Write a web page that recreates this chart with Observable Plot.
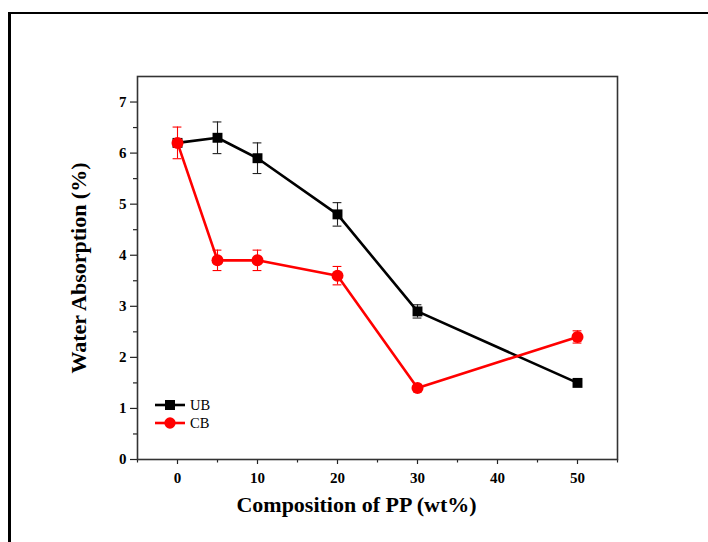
<!DOCTYPE html>
<html>
<head>
<meta charset="utf-8">
<script src="https://cdn.jsdelivr.net/npm/d3@7"></script>
<script src="https://cdn.jsdelivr.net/npm/@observablehq/plot@0.6"></script>
<style>
  html, body { margin: 0; padding: 0; background: #fff; }
  #wrap { position: relative; width: 708px; height: 542px; overflow: hidden; }
  #border { position: absolute; left: 8px; top: 12px; width: 720px; height: 560px;
            border-left: 3px solid #000; border-top: 2.5px solid #000; box-sizing: border-box; }
  #chart { position: absolute; left: 0; top: 0; }
  #legend { position: absolute; left: 0; top: 0; }
</style>
</head>
<body>
<div id="wrap">
  <div id="border"></div>
  <div id="chart"></div>
  <svg id="legend" width="708" height="542"></svg>
</div>
<script>
// ---- data ----
const composition = [0, 5, 10, 20, 30, 50];
const ubValues = [6.2, 6.3, 5.9, 4.8, 2.9, 1.5];
const ubErrors = [0, 0.31, 0.3, 0.23, 0.13, 0];
const cbValues = [6.2, 3.9, 3.9, 3.6, 1.4, 2.4];
const cbErrors = [0.31, 0.2, 0.2, 0.18, 0, 0.12];
const seriesNames = ["UB", "CB"];
const yMajorTicks = [0, 1, 2, 3, 4, 5, 6, 7];
const yMinorTicks = [0.5, 1.5, 2.5, 3.5, 4.5, 5.5, 6.5];
const xMajorTicks = [0, 10, 20, 30, 40, 50];
const xMinorTicks = [-5, 5, 15, 25, 35, 45, 55];

const ub = composition.map((x, i) => ({x, y: ubValues[i], e: ubErrors[i]}));
const cb = composition.map((x, i) => ({x, y: cbValues[i], e: cbErrors[i]}));
const capHalf = 0.55;

const font = "'Liberation Serif', 'Times New Roman', serif";

function errMarks(data, color) {
  const d = data.filter(p => p.e > 0);
  return [
    Plot.ruleX(d, {x: "x", y1: p => p.y - p.e, y2: p => p.y + p.e, stroke: color, strokeWidth: 1.1}),
    Plot.ruleY(d, {y: p => p.y + p.e, x1: p => p.x - capHalf, x2: p => p.x + capHalf, stroke: color, strokeWidth: 1.1}),
    Plot.ruleY(d, {y: p => p.y - p.e, x1: p => p.x - capHalf, x2: p => p.x + capHalf, stroke: color, strokeWidth: 1.1})
  ];
}

const chart = Plot.plot({
  width: 708,
  height: 542,
  marginLeft: 137,
  marginRight: 91,
  marginTop: 76,
  marginBottom: 83,
  style: {fontFamily: font, background: "transparent", overflow: "visible"},
  x: {domain: [-5, 55]},
  y: {domain: [0, 7.5]},
  marks: [
    Plot.axisY(yMajorTicks, {tickSize: 7, tickPadding: 4, tickFormat: "d", fontSize: 15, fontWeight: "bold", fill: "#000", stroke: "#222", strokeWidth: 1.2, label: null}),
    Plot.axisY(yMinorTicks, {tickSize: 4, text: null, stroke: "#222", strokeWidth: 1.2, label: null}),
    Plot.axisX(xMajorTicks, {tickSize: 5, tickPadding: 8, tickFormat: "d", fontSize: 15, fontWeight: "bold", fill: "#000", stroke: "#222", strokeWidth: 1.2, label: null}),
    Plot.axisX(xMinorTicks, {tickSize: 3.5, text: null, stroke: "#222", strokeWidth: 1.2, label: null}),
    Plot.frame({stroke: "#333", strokeWidth: 1.6}),
    ...errMarks(ub, "#222"),
    Plot.line(ub, {x: "x", y: "y", stroke: "#000", strokeWidth: 2.6}),
    Plot.dot(ub, {x: "x", y: "y", symbol: "square", r: 5.6, fill: "#000", stroke: "none"}),
    ...errMarks(cb, "#ff0000"),
    Plot.line(cb, {x: "x", y: "y", stroke: "#ff0000", strokeWidth: 2.6}),
    Plot.dot(cb, {x: "x", y: "y", symbol: "circle", r: 6, fill: "#ff0000", stroke: "none"}),
    Plot.text(["Composition of PP (wt%)"], {frameAnchor: "bottom", dy: 52, dx: -21, fontSize: 22, fontWeight: "bold", fill: "#000"}),
    Plot.text(["Water Absorption (%)"], {frameAnchor: "left", textAnchor: "middle", dx: -59, rotate: -90, fontSize: 22, fontWeight: "bold", fill: "#000"})
  ]
});
document.getElementById("chart").appendChild(chart);

// ---- legend ----
const leg = d3.select("#legend");
const legendItems = [
  {name: seriesNames[0], color: "#000", symbol: d3.symbolSquare, size: 100},
  {name: seriesNames[1], color: "#ff0000", symbol: d3.symbolCircle, size: 100}
];
legendItems.forEach((it, i) => {
  const y = 405 + i * 18;
  leg.append("line").attr("x1", 155).attr("x2", 185).attr("y1", y).attr("y2", y)
    .attr("stroke", it.color).attr("stroke-width", 2.6);
  leg.append("path").attr("d", d3.symbol(it.symbol, it.size)())
    .attr("transform", `translate(170,${y})`).attr("fill", it.color);
  leg.append("text").attr("x", 190).attr("y", y).attr("dy", "0.35em")
    .attr("font-family", font).attr("font-size", 14.5).attr("fill", "#000").text(it.name);
});
</script>
</body>
</html>
